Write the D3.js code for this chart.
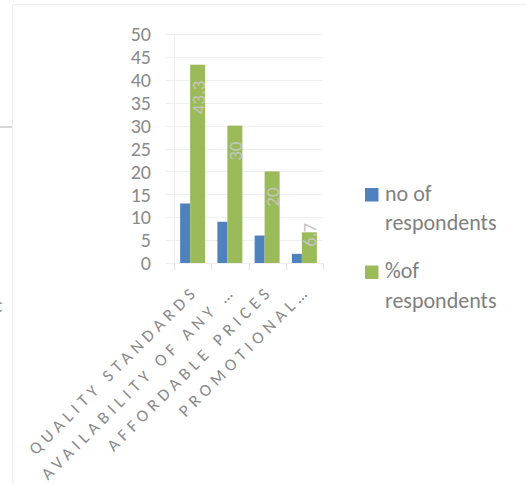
<!DOCTYPE html>
<html lang="en">
<head>
    <meta charset="UTF-8">
    <title>Respondents by reason</title>
    <script src="https://d3js.org/d3.v7.min.js"></script>
    <style>
        body { margin: 0; background: #fff; }
        svg { display: block; }
        text { font-family: Carlito, Calibri, Lato, sans-serif; }
        .tick-label { font-size: 20px; fill: #8a8a8a; }
        .cat-label { font-size: 17px; fill: #8a8a8a; letter-spacing: 5px; }
        .data-label { font-size: 19px; fill: #c4c4c4; }
        .legend-text { font-size: 22px; fill: #808080; }
        .grid { stroke: #efefef; stroke-width: 1; }
    </style>
</head>
<body>
    <svg width="526" height="485"></svg>

    <script>
        // Datos del grafico
        const categories = ["QUALITY STANDARDS", "AVAILABILITY OF ANY …", "AFFORDABLE PRICES", "PROMOTIONAL…"];
        const seriesNames = ["no of respondents", "%of respondents"];
        const noOfRespondents = [13, 9, 6, 2];
        const pctOfRespondents = [43.3, 30, 20, 6.7];
        const yTicks = [0, 5, 10, 15, 20, 25, 30, 35, 40, 45, 50];

        const colors = ["#4f81bd", "#9bbb59"];
        const barWidths = [10, 15];

        const svg = d3.select("svg");

        // Marco del area del grafico (recortado como en la captura)
        svg.append("path")
            .attr("d", "M12.5,485 V4.5 H526")
            .attr("fill", "none")
            .attr("stroke", "#eeeeee");
        svg.append("line")
            .attr("x1", 0).attr("x2", 12).attr("y1", 127).attr("y2", 127)
            .attr("stroke", "#d6d6d6").attr("stroke-width", 2);
        svg.append("text")
            .attr("x", -6).attr("y", 312)
            .style("font-size", "20px").style("fill", "#8393aa")
            .text("c");

        // Escalas
        const x = d3.scaleBand().domain(categories).range([174, 323]).padding(0);
        const y = d3.scaleLinear().domain([0, 50]).range([263, 34]);

        // Lineas de cuadricula
        svg.selectAll(".grid")
            .data(yTicks)
            .enter()
            .append("line")
            .attr("class", "grid")
            .attr("x1", 166).attr("x2", 323)
            .attr("y1", d => Math.round(y(d)) + 0.5)
            .attr("y2", d => Math.round(y(d)) + 0.5);

        // Eje vertical y marcas del eje de categorias
        svg.append("line")
            .attr("x1", 174.5).attr("x2", 174.5)
            .attr("y1", y(50)).attr("y2", y(0))
            .attr("stroke", "#efefef");
        const xTickPos = categories.map(c => x(c)).concat([x.range()[1]]);
        svg.selectAll(".xtick")
            .data(xTickPos)
            .enter()
            .append("line")
            .attr("x1", d => Math.round(d) + 0.5).attr("x2", d => Math.round(d) + 0.5)
            .attr("y1", y(0)).attr("y2", y(0) + 7)
            .attr("stroke", "#e6e6e6");

        // Etiquetas del eje Y
        svg.selectAll(".tick-label")
            .data(yTicks)
            .enter()
            .append("text")
            .attr("class", "tick-label")
            .attr("x", 151)
            .attr("y", d => y(d))
            .attr("dy", "0.36em")
            .attr("text-anchor", "end")
            .text(d => d);

        // Barras
        const series = [noOfRespondents, pctOfRespondents];
        const groupWidth = d3.sum(barWidths);
        const offsets = barWidths.map((w, i) => d3.sum(barWidths.slice(0, i)));

        series.forEach((vals, s) => {
            svg.selectAll(".bar" + s)
                .data(vals)
                .enter()
                .append("rect")
                .attr("class", "bar" + s)
                .attr("x", (d, i) => x(categories[i]) + x.bandwidth() / 2 - groupWidth / 2 + offsets[s])
                .attr("width", barWidths[s])
                .attr("y", d => y(d))
                .attr("height", d => y(0) - y(d))
                .attr("fill", colors[s]);
        });

        // Etiquetas de datos (serie %)
        const labels = svg.selectAll(".data-label")
            .data(pctOfRespondents)
            .enter()
            .append("text")
            .attr("class", "data-label")
            .attr("text-anchor", "end")
            .text(d => d);

        labels.each(function(d, i) {
            const len = this.getComputedTextLength();
            let yEnd = y(d) + 16;
            if (yEnd + len > y(0) - 16) yEnd = y(0) - 16 - len;
            const cx = x(categories[i]) + x.bandwidth() / 2 - groupWidth / 2 + offsets[1] + barWidths[1] / 2 + 7;
            d3.select(this).attr("transform", `translate(${cx},${yEnd}) rotate(-90)`);
        });

        // Etiquetas de categorias rotadas
        svg.selectAll(".cat-label")
            .data(categories)
            .enter()
            .append("text")
            .attr("class", "cat-label")
            .attr("text-anchor", "end")
            .attr("transform", d => `translate(${x(d) + x.bandwidth() / 2 + 7},292) rotate(-45)`)
            .text(d => d);

        // Leyenda
        const legend = svg.append("g");
        const legendTops = [188, 265.5];
        seriesNames.forEach((name, i) => {
            legend.append("rect")
                .attr("x", 365).attr("y", legendTops[i])
                .attr("width", 13.5).attr("height", 13.5)
                .attr("fill", colors[i]);

            // ajuste de linea simple
            const t = legend.append("text").attr("class", "legend-text");
            const words = name.split(" ");
            let lines = [], line = [];
            words.forEach(w => {
                line.push(w);
                t.text(line.join(" "));
                if (t.node().getComputedTextLength() > 125 && line.length > 1) {
                    line.pop();
                    lines.push(line.join(" "));
                    line = [w];
                }
            });
            lines.push(line.join(" "));
            t.text(null);
            lines.forEach((l, j) => {
                t.append("tspan")
                    .attr("x", 385)
                    .attr("y", legendTops[i] + 12.7 + j * 29.3)
                    .text(l);
            });
        });
    </script>
</body>
</html>
